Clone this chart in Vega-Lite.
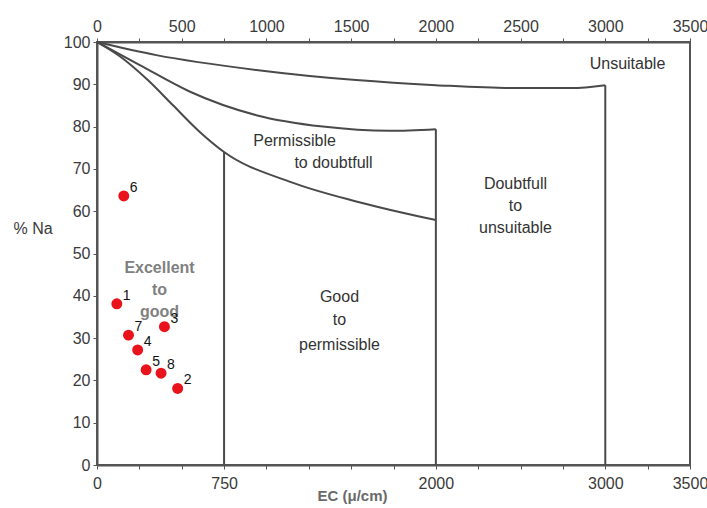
{
  "$schema": "https://vega.github.io/schema/vega-lite/v6.json",
  "width": 593,
  "height": 423,
  "autosize": {"type": "none"},
  "padding": {"left": 97, "top": 42, "right": 17, "bottom": 43},
  "background": "#ffffff",
  "config": {
    "view": {"stroke": "#555555", "strokeWidth": 2},
    "font": "Liberation Sans",
    "axis": {
      "grid": false,
      "domainColor": "#555555",
      "domainWidth": 2,
      "tickColor": "#555555",
      "tickSize": 4,
      "labelFont": "Liberation Sans",
      "labelFontSize": 16,
      "labelColor": "#3a3a3a",
      "labelOverlap": false,
      "labelFlush": false,
      "labelBound": false
    }
  },
  "datasets": {
    "curves": [
      {"seg": "A", "o": 0, "ec": 0, "na": 100},
      {"seg": "A", "o": 1, "ec": 350, "na": 96.9},
      {"seg": "A", "o": 2, "ec": 940, "na": 93.4},
      {"seg": "A", "o": 3, "ec": 1530, "na": 91.0},
      {"seg": "A", "o": 4, "ec": 2000, "na": 89.8},
      {"seg": "A", "o": 5, "ec": 2450, "na": 89.1},
      {"seg": "A", "o": 6, "ec": 2800, "na": 89.1},
      {"seg": "A", "o": 7, "ec": 3000, "na": 89.8},
      {"seg": "B", "o": 0, "ec": 0, "na": 100},
      {"seg": "B", "o": 1, "ec": 250, "na": 94.6},
      {"seg": "B", "o": 2, "ec": 546, "na": 88.3},
      {"seg": "B", "o": 3, "ec": 940, "na": 82.7},
      {"seg": "B", "o": 4, "ec": 1333, "na": 80.0},
      {"seg": "B", "o": 5, "ec": 1727, "na": 79.0},
      {"seg": "B", "o": 6, "ec": 2000, "na": 79.4},
      {"seg": "C", "o": 0, "ec": 0, "na": 100},
      {"seg": "C", "o": 1, "ec": 152, "na": 96.1},
      {"seg": "C", "o": 2, "ec": 300, "na": 91.0},
      {"seg": "C", "o": 3, "ec": 447, "na": 85.1},
      {"seg": "C", "o": 4, "ec": 605, "na": 78.8},
      {"seg": "C", "o": 5, "ec": 750, "na": 74.0},
      {"seg": "C", "o": 6, "ec": 1136, "na": 67.0},
      {"seg": "C", "o": 7, "ec": 1530, "na": 62.3},
      {"seg": "C", "o": 8, "ec": 2000, "na": 57.9}
    ],
    "verticals": [
      {"ec": 750, "top": 74.0, "bottom": 0},
      {"ec": 2000, "top": 79.4, "bottom": 0},
      {"ec": 3000, "top": 89.8, "bottom": 0}
    ],
    "samples": [
      {"id": "1", "ec": 117, "na": 38.1},
      {"id": "2", "ec": 476, "na": 18.1},
      {"id": "3", "ec": 398, "na": 32.7},
      {"id": "4", "ec": 240, "na": 27.2},
      {"id": "5", "ec": 290, "na": 22.5},
      {"id": "6", "ec": 158, "na": 63.6},
      {"id": "7", "ec": 186, "na": 30.7},
      {"id": "8", "ec": 378, "na": 21.7}
    ],
    "zones": [
      {"text": "Unsuitable", "ec": 3131, "na": 94.8},
      {"text": "Permissible", "ec": 1166, "na": 76.6},
      {"text": "to doubtfull", "ec": 1396, "na": 71.4},
      {"text": "Doubtfull", "ec": 2470, "na": 66.4},
      {"text": "to", "ec": 2470, "na": 61.2},
      {"text": "unsuitable", "ec": 2470, "na": 56.0},
      {"text": "Good", "ec": 1431, "na": 39.7},
      {"text": "to", "ec": 1431, "na": 34.3},
      {"text": "permissible", "ec": 1431, "na": 28.4}
    ],
    "excellent": [
      {"text": "Excellent", "ec": 369, "na": 46.6},
      {"text": "to", "ec": 369, "na": 41.4},
      {"text": "good", "ec": 369, "na": 36.2}
    ]
  },
  "resolve": {"axis": {"x": "independent"}},
  "layer": [
    {
      "data": {"name": "curves"},
      "mark": {"type": "line", "interpolate": "monotone", "color": "#4a4a4a", "strokeWidth": 2},
      "encoding": {
        "x": {
          "field": "ec", "type": "quantitative",
          "scale": {"domain": [0, 3500], "nice": false, "zero": true},
          "axis": {
            "orient": "bottom",
            "values": [0, 250, 500, 750, 1000, 1250, 1500, 1750, 2000, 2250, 2500, 2750, 3000, 3250, 3500],
            "labelExpr": "indexof([0, 750, 2000, 3000, 3500], datum.value) >= 0 ? format(datum.value, 'd') : ''",
            "labelPadding": 6,
            "title": "EC (μ/cm)",
            "titleFont": "Liberation Sans",
            "titleFontSize": 15,
            "titleFontWeight": "bold",
            "titleColor": "#6a6a6a",
            "titleX": 255,
            "titleY": 30,
            "titleAnchor": "middle",
            "titleAlign": "center",
            "titleBaseline": "middle"
          }
        },
        "y": {
          "field": "na", "type": "quantitative",
          "scale": {"domain": [0, 100], "nice": false},
          "axis": {
            "values": [0, 10, 20, 30, 40, 50, 60, 70, 80, 90, 100],
            "labelPadding": 3,
            "title": "% Na",
            "titleFont": "Liberation Sans",
            "titleFontSize": 16,
            "titleFontWeight": "normal",
            "titleColor": "#3a3a3a",
            "titleAngle": 0,
            "titleAlign": "left",
            "titleBaseline": "middle",
            "titleX": -84,
            "titleY": 186
          }
        },
        "detail": {"field": "seg"},
        "order": {"field": "o", "type": "quantitative"}
      }
    },
    {
      "data": {"name": "verticals"},
      "mark": {"type": "rule", "color": "#4a4a4a", "strokeWidth": 2},
      "encoding": {
        "x": {
          "field": "ec", "type": "quantitative",
          "axis": {
            "orient": "top",
            "values": [0, 250, 500, 750, 1000, 1250, 1500, 1750, 2000, 2250, 2500, 2750, 3000, 3250, 3500],
            "labelExpr": "datum.value % 500 == 0 ? format(datum.value, 'd') : ''",
            "labelPadding": 4,
            "title": null
          }
        },
        "y": {"field": "top", "type": "quantitative"},
        "y2": {"field": "bottom"}
      }
    },
    {
      "data": {"name": "zones"},
      "mark": {"type": "text", "font": "Liberation Sans", "fontSize": 16, "color": "#333333", "align": "center", "baseline": "middle"},
      "encoding": {
        "x": {"field": "ec", "type": "quantitative", "axis": null},
        "y": {"field": "na", "type": "quantitative"},
        "text": {"field": "text"}
      }
    },
    {
      "data": {"name": "excellent"},
      "mark": {"type": "text", "font": "Liberation Sans", "fontSize": 16, "fontWeight": "bold", "color": "#808080", "align": "center", "baseline": "middle"},
      "encoding": {
        "x": {"field": "ec", "type": "quantitative", "axis": null},
        "y": {"field": "na", "type": "quantitative"},
        "text": {"field": "text"}
      }
    },
    {
      "data": {"name": "samples"},
      "mark": {"type": "point", "filled": true, "shape": "circle", "size": 120, "color": "#e8131b", "opacity": 1},
      "encoding": {
        "x": {"field": "ec", "type": "quantitative", "axis": null},
        "y": {"field": "na", "type": "quantitative"}
      }
    },
    {
      "data": {"name": "samples"},
      "mark": {"type": "text", "font": "Liberation Sans", "fontSize": 14, "color": "#111111", "align": "left", "baseline": "middle", "dx": 6, "dy": -8},
      "encoding": {
        "x": {"field": "ec", "type": "quantitative", "axis": null},
        "y": {"field": "na", "type": "quantitative"},
        "text": {"field": "id"}
      }
    }
  ]
}
